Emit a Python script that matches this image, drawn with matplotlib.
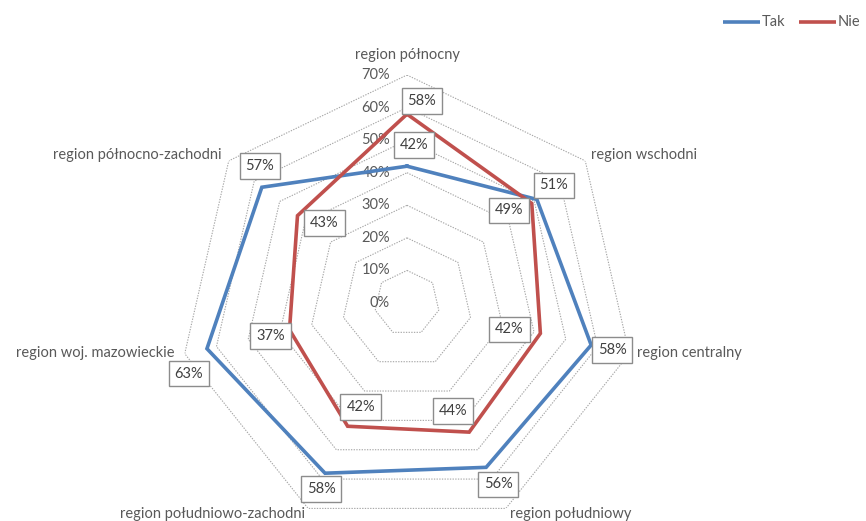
import numpy as np
import matplotlib.pyplot as plt
from matplotlib.lines import Line2D

plt.rcParams['font.family'] = ['Lato', 'DejaVu Sans']

categories = ["region północny", "region wschodni", "region centralny", "region południowy",
              "region południowo-zachodni", "region woj. mazowieckie", "region północno-zachodni"]
tak = [0.42, 0.51, 0.58, 0.56, 0.58, 0.63, 0.57]
nie = [0.58, 0.49, 0.42, 0.44, 0.42, 0.37, 0.43]
ticks = [0, 0.1, 0.2, 0.3, 0.4, 0.5, 0.6, 0.7]
tick_labels = ["0%", "10%", "20%", "30%", "40%", "50%", "60%", "70%"]
series_names = ["Tak", "Nie"]

blue = '#4F81BD'
red = '#C0504D'
txt = '#595959'

n = len(categories)
angles = np.arange(n) * 2 * np.pi / n
closed = np.append(angles, angles[0])

fig = plt.figure(figsize=(8.66, 5.21), dpi=100)
W, H = 866, 521
cx, cy, R = 407, 303, 228
ax = fig.add_axes([(cx - R) / W, (H - cy - R) / H, 2 * R / W, 2 * R / H], projection='polar')
ax.set_theta_zero_location('N')
ax.set_theta_direction(-1)
ax.set_ylim(0, 0.7)
ax.grid(False)
ax.spines['polar'].set_visible(False)
ax.set_xticks([])
ax.set_yticks([])
ax.patch.set_alpha(0)

# heptagon grid
for t in ticks[1:]:
    ax.plot(closed, [t] * (n + 1), color='#A6A6A6', lw=0.8, ls=(0, (1.2, 1.2)), zorder=1)

for t, lab in zip(ticks, tick_labels):
    ax.annotate(lab, (0, t), xytext=(-17, 0), textcoords='offset pixels',
                ha='right', va='center', fontsize=10.5, color=txt, zorder=2)

ax.plot(closed, tak + tak[:1], color=blue, lw=2.6, zorder=3, solid_joinstyle='miter')
ax.plot(closed, nie + nie[:1], color=red, lw=2.6, zorder=3, solid_joinstyle='miter')

# category labels
cat_off = [(0, 20, 'center'), (6, 6, 'left'), (8, 1, 'left'), (4, -6, 'left'),
           (-3, -6, 'right'), (-10, 1, 'right'), (-7, 6, 'right')]
for a, lab, (dx, dy, ha) in zip(angles, categories, cat_off):
    ax.annotate(lab, (a, 0.7), xytext=(dx, dy), textcoords='offset pixels',
                ha=ha, va='center', fontsize=10.5, color=txt, annotation_clip=False)

# data labels (screen offsets: x right, y down)
tak_off = [(7, -21), (17, -14), (21, 5), (12, 17), (-4, 16), (-18, 25), (-2, -21)]
nie_off = [(15, -13), (-23, 7), (-31, -4), (-16, -21), (13, -19), (-19, 6), (27, 7)]
box = dict(boxstyle='square,pad=0.4', fc='white', ec='#8C8C8C', lw=1.0)
for vals, offs in ((tak, tak_off), (nie, nie_off)):
    for a, v, (dx, dy) in zip(angles, vals, offs):
        ax.annotate(f"{round(v * 100)}%", (a, v), xytext=(dx, -dy), textcoords='offset pixels',
                    ha='center', va='center', fontsize=10.5, color='#404040', bbox=box, zorder=5,
                    annotation_clip=False)

# legend, drawn by hand in the top right corner
for name, col, x0 in zip(series_names, [blue, red], [723, 799]):
    y = 1 - 22 / H
    fig.add_artist(Line2D([x0 / W, (x0 + 37) / W], [y, y], color=col, lw=2.6,
                          solid_capstyle='butt', transform=fig.transFigure))
    fig.text((x0 + 39) / W, y, name, ha='left', va='center', fontsize=10.5, color=txt)

fig.savefig('out.png', dpi=100)
